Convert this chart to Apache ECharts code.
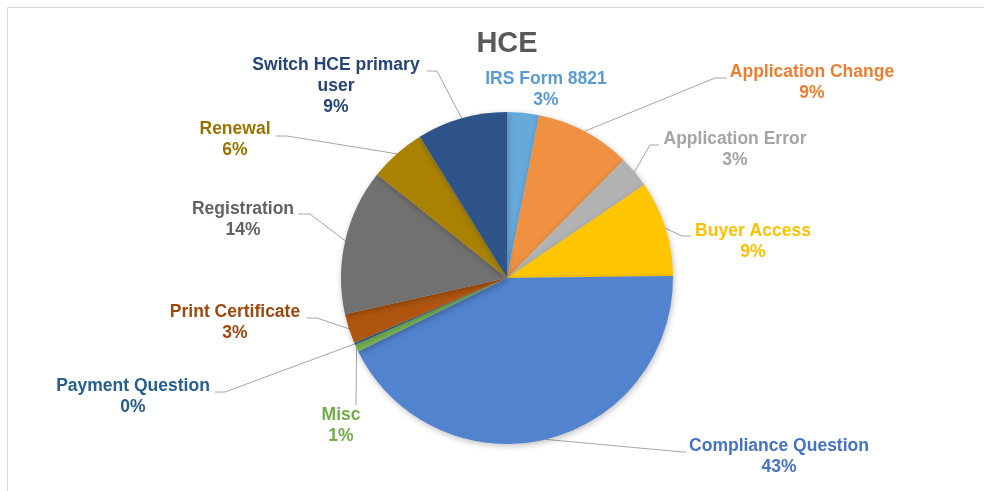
<!DOCTYPE html>
<html>
<head>
<meta charset="utf-8">
<script src="https://cdn.jsdelivr.net/npm/echarts@6/dist/echarts.min.js"></script>
<style>
html,body{margin:0;padding:0;background:#fff;}
#chart{width:990px;height:491px;}
</style>
</head>
<body>
<div id="chart"></div>
<script>
// ---- data ----
var categories = ['IRS Form 8821','Application Change','Application Error','Buyer Access','Compliance Question','Misc','Payment Question','Print Certificate','Registration','Renewal','Switch HCE primary user'];
var values = [3.1, 9.3, 3.1, 9.3, 42.9, 0.7, 0.2, 2.9, 14.2, 5.5, 8.8];
var chartTitle = 'HCE';

// ---- styles ----
var sliceColors = ['#68A9DC','#EF9140','#B2B2B2','#FFC600','#5283CE','#7AB851','#2A6AA0','#AF5510','#717171','#A88200','#2D5389'];
var textColors  = ['#5B9BD5','#ED7D31','#A5A5A5','#FFC000','#4472C4','#70AD47','#255E91','#9E480E','#636363','#997300','#264478'];
// label centre [x,y] and leader-line bend/end points (layout only)
var labelCenters = [[546,90],[812,82.5],[735,149.5],[753,241.5],[779,456.5],[341,426],[133,396.5],[235,323],[243,220],[235,140],[336,86]];
var leaderTails = [
  null,
  [[715,78],[727,78]],
  [[650,145],[659,145]],
  [[682,236],[691,236]],
  [[683,452],[686,452]],
  [[356,405]],
  [[225,392],[215,392]],
  [[317,318],[307,318]],
  [[310,214],[298,214]],
  [[287,136],[276,136]],
  [[437,71],[427,71]]
];

var CX = 507, CY = 278, R = 166;

var chart = echarts.init(document.getElementById('chart'), null, {renderer:'canvas'});

var total = values.reduce(function(a,b){return a+b;},0);
function edgePoint(i){
  var cum = 0;
  for (var k=0;k<i;k++) cum += values[k];
  var mid = (cum + values[i]/2)/total * Math.PI*2;
  return [CX + R*Math.sin(mid), CY - R*Math.cos(mid)];
}

var data = categories.map(function(c,i){
  return {
    name: c,
    value: values[i],
    itemStyle: {color: sliceColors[i]},
    label: {color: textColors[i]},
    labelLine: {show: i !== 0}
  };
});

chart.setOption({
  animation: false,
  backgroundColor: '#ffffff',
  graphic: [
    {type:'polyline', shape:{points:[[7.5,491],[7.5,7.5],[984,7.5]]}, style:{fill:'none', stroke:'#d9d9d9', lineWidth:1}, z:-1},
    {type:'text', x:507, y:44, style:{text: chartTitle, fill:'#595959', font:'bold 29px "Liberation Sans", Arial, sans-serif', align:'center', verticalAlign:'middle'}}
  ],
  series: [{
    type: 'pie',
    center: [CX, CY],
    radius: R,
    startAngle: 90,
    clockwise: true,
    avoidLabelOverlap: false,
    data: data,
    itemStyle: {
      borderWidth: 0,
      shadowBlur: 6,
      shadowColor: 'rgba(0,0,0,0.25)',
      shadowOffsetX: 1,
      shadowOffsetY: 2
    },
    label: {
      show: true,
      position: 'outside',
      fontFamily: '"Liberation Sans", Arial, sans-serif',
      fontWeight: 'bold',
      fontSize: 17.5,
      lineHeight: 21,
      align: 'center',
      formatter: function(p){
        var n = p.name === 'Switch HCE primary user' ? 'Switch HCE primary\nuser' : p.name;
        return n + '\n' + Math.round(p.percent) + '%';
      }
    },
    labelLine: {
      show: true,
      length: 10,
      length2: 10,
      lineStyle: {color:'#A6A6A6', width:1}
    },
    emphasis: {disabled: true},
    labelLayout: function(params){
      var i = params.dataIndex;
      var c = labelCenters[i];
      var res = {x: c[0], y: c[1], align:'center', verticalAlign:'middle'};
      var tail = leaderTails[i];
      if (tail) {
        var start = (params.labelLinePoints && params.labelLinePoints[0]) ? params.labelLinePoints[0] : edgePoint(i);
        res.labelLinePoints = [start].concat(tail);
      }
      return res;
    }
  }]
});
</script>
</body>
</html>
